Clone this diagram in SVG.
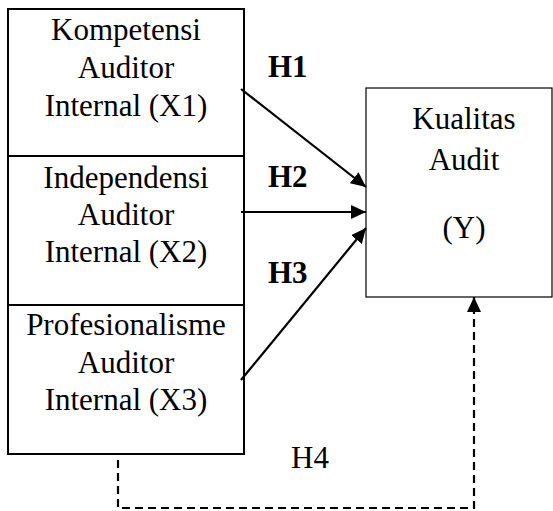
<svg xmlns="http://www.w3.org/2000/svg" width="553" height="511" viewBox="0 0 553 511">
<style>
  .box { fill: #ffffff; stroke: #000000; stroke-width: 2; }
  .ybox { fill: #ffffff; stroke: #000000; stroke-width: 1.2; }
  .t { font-family: 'Liberation Serif', 'DejaVu Serif', serif; font-size: 31px; fill: #000000; text-anchor: middle; }
  .h { font-family: 'Liberation Serif', 'DejaVu Serif', serif; font-size: 31px; font-weight: bold; fill: #000000; }
  .h4 { font-family: 'Liberation Serif', 'DejaVu Serif', serif; font-size: 31px; fill: #000000; }
  .edge { fill: none; stroke: #000000; stroke-width: 2.2; }
  .dash { fill: none; stroke: #000000; stroke-width: 2.2; stroke-dasharray: 8 5; }
</style>
<defs>
  <marker id="arr" viewBox="0 0 15 14" refX="15" refY="7" markerWidth="15" markerHeight="14" markerUnits="userSpaceOnUse" orient="auto">
    <path d="M0,0 L15,7 L0,14 Z" fill="#000000"/>
  </marker>
</defs>
<rect width="553" height="511" fill="#ffffff"/>

<g id="x1">
  <rect class="box" x="8" y="9" width="236" height="147"/>
  <text class="t" x="126" y="40">Kompetensi</text>
  <text class="t" x="126" y="78">Auditor</text>
  <text class="t" x="126" y="116">Internal (X1)</text>
</g>
<g id="x2">
  <rect class="box" x="8" y="156" width="236" height="149"/>
  <text class="t" x="126" y="188">Independensi</text>
  <text class="t" x="126" y="225">Auditor</text>
  <text class="t" x="126" y="262">Internal (X2)</text>
</g>
<g id="x3">
  <rect class="box" x="8" y="305" width="236" height="149"/>
  <text class="t" x="126" y="335">Profesionalisme</text>
  <text class="t" x="126" y="373">Auditor</text>
  <text class="t" x="126" y="410">Internal (X3)</text>
</g>
<g id="y">
  <rect class="ybox" x="366" y="88" width="186" height="209"/>
  <text class="t" x="464" y="129">Kualitas</text>
  <text class="t" x="464" y="170">Audit</text>
  <text class="t" x="464" y="238">(Y)</text>
</g>

<g id="connectors">
  <line class="edge" x1="241" y1="89" x2="366" y2="187" marker-end="url(#arr)"/>
  <line class="edge" x1="241" y1="212" x2="366" y2="212" marker-end="url(#arr)"/>
  <line class="edge" x1="241" y1="380" x2="366" y2="228" marker-end="url(#arr)"/>
  <polyline class="dash" points="118,460 118,508 474,508 474,297" marker-end="url(#arr)"/>
  <text class="h" x="268" y="77">H1</text>
  <text class="h" x="268" y="187">H2</text>
  <text class="h" x="268" y="283">H3</text>
  <text class="h4" x="291" y="468">H4</text>
</g>
</svg>
